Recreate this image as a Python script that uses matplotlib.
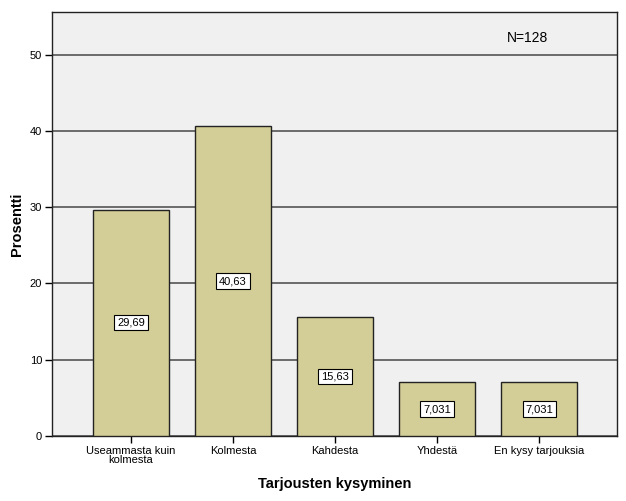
import numpy as np
import matplotlib.pyplot as plt

plt.rcParams['font.family'] = ['Liberation Sans', 'DejaVu Sans']

kategoriat = ['Useammasta kuin\nkolmesta', 'Kolmesta', 'Kahdesta', 'Yhdestä', 'En kysy tarjouksia']
prosentit = [29.69, 40.63, 15.63, 7.031, 7.031]
tekstit = ['29,69', '40,63', '15,63', '7,031', '7,031']

fig = plt.figure(figsize=(6.26, 5.01), dpi=100)
ax = fig.add_axes([0.083, 0.13, 0.903, 0.846])
ax.set_facecolor('#F0F0F0')

x = np.arange(len(kategoriat))
ax.set_axisbelow(True)
ax.yaxis.grid(True, color='#555555', linewidth=1.2)
ax.bar(x, prosentit, width=0.75, color='#D3CE97', edgecolor='#222222', linewidth=1.0, zorder=3)

# arvot laatikoissa palkin puolivälissä
for xi, v, t in zip(x, prosentit, tekstit):
    ax.text(xi, v / 2, t, ha='center', va='center', fontsize=8, zorder=4,
            bbox=dict(boxstyle='square,pad=0.25', facecolor='white', edgecolor='black', linewidth=0.8))

ax.set_xlim(-0.775, 4.765)
ax.set_ylim(0, 55.6)
ax.set_yticks([0, 10, 20, 30, 40, 50])
ax.set_xticks(x)
ax.set_xticklabels(kategoriat, fontsize=8, linespacing=0.9)
ax.tick_params(axis='y', labelsize=8, length=5, width=1, pad=2)
ax.tick_params(axis='x', length=5, width=1, pad=2)

for s in ax.spines.values():
    s.set_color('#222222')
    s.set_linewidth(1.0)

ax.set_ylabel('Prosentti', fontsize=10.5, fontweight='bold', labelpad=4)
ax.set_xlabel('Tarjousten kysyminen', fontsize=10.5, fontweight='bold', labelpad=9)

ax.text(0.842, 0.939, 'N=128', transform=ax.transAxes, ha='center', va='center', fontsize=10)

fig.savefig('out.png', dpi=100)
